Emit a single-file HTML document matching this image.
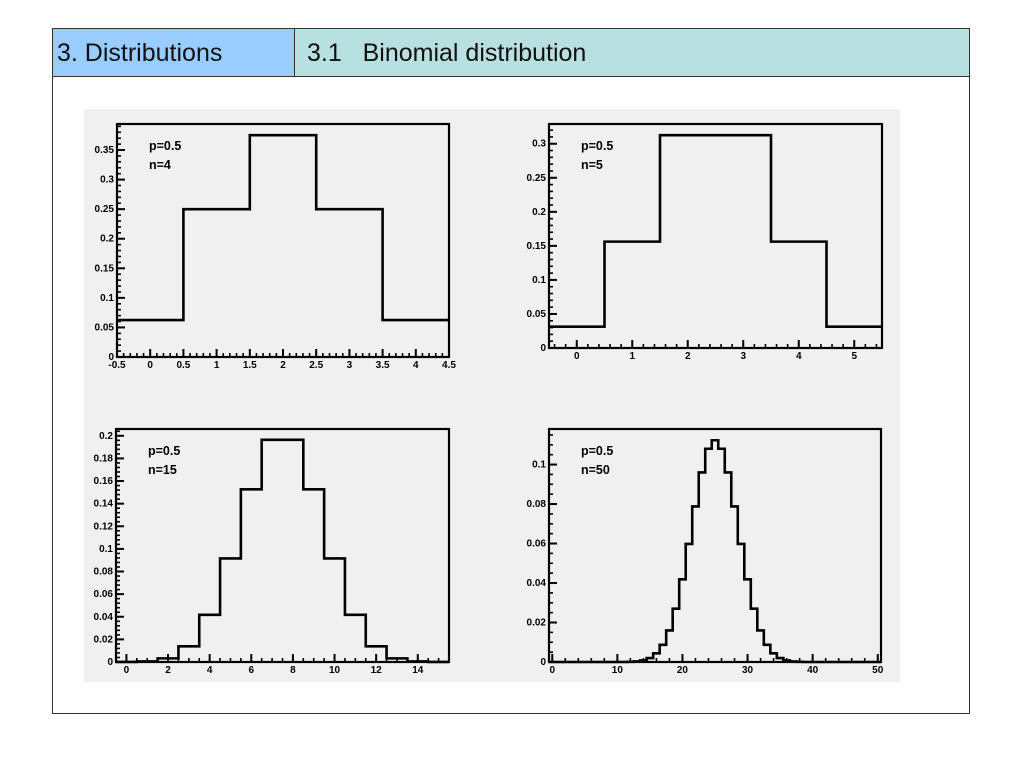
<!DOCTYPE html>
<html><head><meta charset="utf-8">
<style>
body{margin:0;background:#fff;width:1024px;height:768px;overflow:hidden;font-family:"Liberation Sans",Arial,sans-serif}
#outer{position:absolute;left:52px;top:28px;width:918px;height:686px;border:1px solid #333;box-sizing:border-box}
#h1{position:absolute;left:0;top:0;width:242px;height:48px;background:#99ccff;border-bottom:1px solid #333;border-right:1px solid #333;box-sizing:border-box;font-size:25px;line-height:48px;padding:0 0 0 4px;color:#111}
#h2{position:absolute;left:242px;top:0;right:0;height:48px;background:#b9e0e0;border-bottom:1px solid #333;box-sizing:border-box;font-size:25px;line-height:48px;padding:0 0 0 12px;color:#111;white-space:pre}
svg{position:absolute;left:0;top:0}
</style></head><body>
<div id="outer">
<div id="h1">3. Distributions</div>
<div id="h2">3.1   Binomial distribution</div>
</div>
<svg id="chart" width="1024" height="768">
<rect x="84" y="109" width="816" height="573" fill="#f0f0f0"/>
</svg>
<script>
const valsN4=[0.0625,0.25,0.375,0.25,0.0625];
const valsN5=[0.03125,0.15625,0.3125,0.3125,0.15625,0.03125];
const valsN15=[0.00003,0.00046,0.0032,0.0139,0.0417,0.0916,0.1527,0.1964,0.1964,0.1527,0.0916,0.0417,0.0139,0.0032,0.00046,0.00003];
const valsN50=[0,0,0,0,0,0,0,0,0,0,0,0,0.0001,0.0003,0.0008,0.0020,0.0044,0.0087,0.0160,0.0270,0.0419,0.0598,0.0788,0.0960,0.1080,0.1123,0.1080,0.0960,0.0788,0.0598,0.0419,0.0270,0.0160,0.0087,0.0044,0.0020,0.0008,0.0003,0.0001,0,0,0,0,0,0,0,0,0,0,0,0];
const xTicksN4=["-0.5","0","0.5","1","1.5","2","2.5","3","3.5","4","4.5"];
const yTicksN4=["0","0.05","0.1","0.15","0.2","0.25","0.3","0.35"];
const xTicksN5=["0","1","2","3","4","5"];
const yTicksN5=["0","0.05","0.1","0.15","0.2","0.25","0.3"];
const xTicksN15=["0","2","4","6","8","10","12","14"];
const yTicksN15=["0","0.02","0.04","0.06","0.08","0.1","0.12","0.14","0.16","0.18","0.2"];
const xTicksN50=["0","10","20","30","40","50"];
const yTicksN50=["0","0.02","0.04","0.06","0.08","0.1"];
const labelsN=["n=4","n=5","n=15","n=50"];

const NS="http://www.w3.org/2000/svg";
const svg=document.getElementById('chart');
function mk(t,a,p){const e=document.createElementNS(NS,t);for(const k in a)e.setAttribute(k,a[k]);(p||svg).appendChild(e);return e;}

function draw(c){
  const g=mk('g',{});
  
  
  const sx=v=>c.L+(v-c.x0)/(c.x1-c.x0)*(c.R-c.L);
  const sy=v=>c.B-(v/c.ymax)*(c.B-c.T);
  for(let v=0;v<=c.ymax+1e-9;v+=c.yminor){mk('line',{x1:c.L,x2:c.L+4,y1:sy(v),y2:sy(v),stroke:'#000','stroke-width':1.6},g);}
  for(let v=Math.ceil(c.x0/c.xminor)*c.xminor;v<=c.x1+1e-9;v+=c.xminor){mk('line',{x1:sx(v),x2:sx(v),y1:c.B,y2:c.B-4,stroke:'#000','stroke-width':1.6},g);}
  c.yt.forEach(s=>{const v=parseFloat(s);const y=sy(v);
    mk('line',{x1:c.L,x2:c.L+8,y1:y,y2:y,stroke:'#000','stroke-width':2},g);
    const t=mk('text',{x:c.L-3,y:y+3,'text-anchor':'end','font-size':10,'font-weight':'bold',fill:'#000'},g);t.textContent=s;
    
    });
  c.xt.forEach(s=>{const v=parseFloat(s);const x=sx(v);
    mk('line',{x1:x,x2:x,y1:c.B,y2:c.B-8,stroke:'#000','stroke-width':2},g);
    const t=mk('text',{x:x,y:c.B+11,'text-anchor':'middle','font-size':10,'font-weight':'bold',fill:'#000'},g);t.textContent=s;
    
    });
  let d='';
  c.vals.forEach((v,i)=>{const xa=sx(i-0.5),xb=sx(i+0.5),y=sy(v);d+=(i==0?'M':'L')+xa+','+y+' L'+xb+','+y+' ';});
  const p=mk('path',{d:d,fill:'none',stroke:'#000','stroke-width':2.6},g);
  
  
  const f=mk('rect',{x:c.L,y:c.T,width:c.R-c.L,height:c.B-c.T,fill:'none',stroke:'#000','stroke-width':2.2},g);
  
  
  const t1=mk('text',{x:c.L+32,y:c.T+26,'font-size':12.5,'font-weight':'bold'},g);t1.textContent='p=0.5';
  
  
  const t2=mk('text',{x:c.L+32,y:c.T+45,'font-size':12.5,'font-weight':'bold'},g);t2.textContent=c.lab;
  
  
}
draw({name:'chart-n4',L:117,R:449,T:124,B:357,x0:-0.5,x1:4.5,ymax:0.394,xminor:0.1,yminor:0.01,vals:valsN4,xt:xTicksN4,yt:yTicksN4,lab:labelsN[0]});
draw({name:'chart-n5',L:549,R:882,T:124,B:348,x0:-0.5,x1:5.5,ymax:0.329,xminor:0.2,yminor:0.01,vals:valsN5,xt:xTicksN5,yt:yTicksN5,lab:labelsN[1]});
draw({name:'chart-n15',L:116,R:449,T:429,B:662,x0:-0.5,x1:15.5,ymax:0.206,xminor:0.5,yminor:0.004,vals:valsN15,xt:xTicksN15,yt:yTicksN15,lab:labelsN[2]});
draw({name:'chart-n50',L:549,R:881,T:429,B:662,x0:-0.5,x1:50.5,ymax:0.118,xminor:2,yminor:0.005,vals:valsN50,xt:xTicksN50,yt:yTicksN50,lab:labelsN[3]});
</script>
</body></html>
